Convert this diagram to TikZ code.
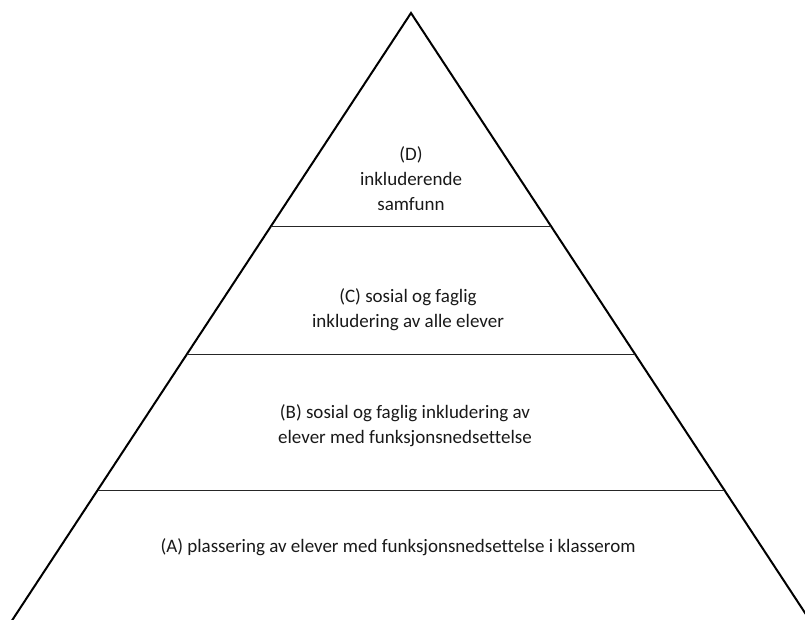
\documentclass[tikz,border=0pt]{standalone}
\usepackage{fontspec}
\setmainfont[Ligatures=NoCommon]{Carlito}
\begin{document}
\begin{tikzpicture}[x=1pt,y=-1pt,
  side/.style={line width=2pt,black},
  level/.style={line width=1pt,black!85},
  lbl/.style={align=center,inner sep=0pt,text=black!90,font=\fontsize{19}{25}\selectfont}]
\useasboundingbox (0,0) rectangle (805,619);
\clip (0,0) rectangle (805,619);
\coordinate (apex) at (411,13);
\coordinate (bl) at (11,622);
\coordinate (br) at (811,622);
\draw[side] (bl) -- (apex) -- (br);
\coordinate (d1) at (271,226); \coordinate (d2) at (551,226);
\coordinate (c1) at (187,354); \coordinate (c2) at (635,354);
\coordinate (b1) at (98,490);  \coordinate (b2) at (724,490);
\draw[level] (d1) -- (d2);
\draw[level] (c1) -- (c2);
\draw[level] (b1) -- (b2);
\begin{scope}
\clip (0,0) rectangle (805,210);
\node[lbl] (D) at (411,179) {(D)\\inkluderende\\samfunn};
\end{scope}
\node[lbl] (C) at (408,310) {(C) sosial og faglig\\inkludering av alle elever};
\node[lbl] (B) at (405,425.5) {(B) sosial og faglig inkludering av\\elever med funksjonsnedsettelse};
\node[lbl] (A) at (398,547) {(A) plassering av elever med funksjonsnedsettelse i klasserom};
\end{tikzpicture}
\end{document}
